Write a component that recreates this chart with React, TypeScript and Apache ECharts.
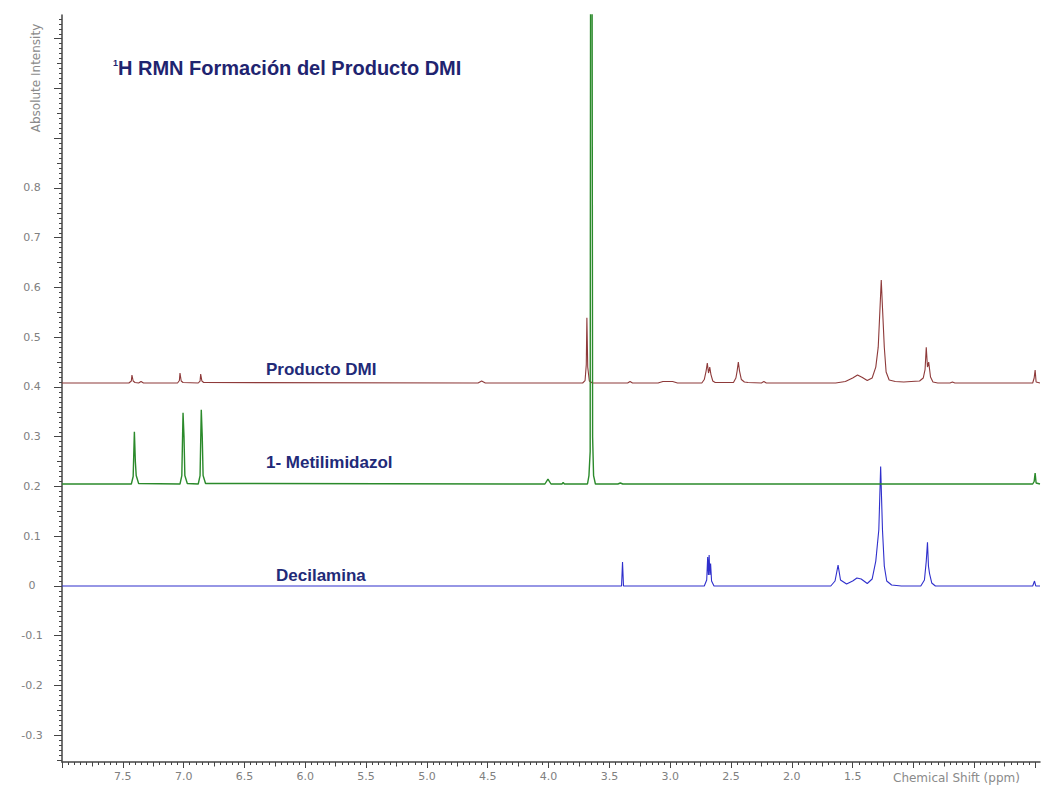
import React, { useEffect, useRef } from "react";
import * as echarts from "echarts";

// ---- data ----
const xTickLabels = [7.5, 7.0, 6.5, 6.0, 5.5, 5.0, 4.5, 4.0, 3.5, 3.0, 2.5, 2.0, 1.5];
const yTickLabels = [-0.3, -0.2, -0.1, 0, 0.1, 0.2, 0.3, 0.4, 0.5, 0.6, 0.7, 0.8];
const seriesNames = ["Producto DMI", "1- Metilimidazol", "Decilamina"];
const titleText = "H RMN Formación del Producto DMI";
const xAxisName = "Chemical Shift (ppm)";
const yAxisName = "Absolute Intensity";

// [ppm, intensity]
const productoDMI: [number, number][] = [
  [8.0, 0.408], [7.45, 0.408], [7.43, 0.412], [7.425, 0.424], [7.415, 0.412], [7.40, 0.409],
  [7.37, 0.408], [7.35, 0.411], [7.33, 0.408],
  [7.05, 0.408], [7.035, 0.413], [7.03, 0.428], [7.02, 0.412], [7.005, 0.409],
  [6.88, 0.408], [6.865, 0.412], [6.86, 0.426], [6.85, 0.412], [6.835, 0.409],
  [4.58, 0.408], [4.55, 0.412], [4.52, 0.408],
  [3.72, 0.408], [3.70, 0.413], [3.69, 0.445], [3.685, 0.539], [3.678, 0.44], [3.665, 0.412], [3.64, 0.408],
  [3.35, 0.408], [3.33, 0.411], [3.31, 0.408],
  [3.10, 0.408], [3.06, 0.411], [2.98, 0.411], [2.94, 0.408],
  [2.74, 0.408], [2.72, 0.415], [2.705, 0.432], [2.695, 0.448], [2.685, 0.428], [2.675, 0.44], [2.665, 0.425], [2.65, 0.412], [2.63, 0.409],
  [2.48, 0.409], [2.46, 0.418], [2.45, 0.432], [2.44, 0.45], [2.43, 0.432], [2.415, 0.415], [2.39, 0.41], [2.36, 0.409],
  [2.25, 0.408], [2.23, 0.411], [2.21, 0.408],
  [1.64, 0.408], [1.56, 0.411], [1.50, 0.418], [1.46, 0.424], [1.42, 0.419], [1.38, 0.413], [1.34, 0.418],
  [1.31, 0.44], [1.29, 0.48], [1.275, 0.56], [1.265, 0.615], [1.255, 0.56], [1.24, 0.48], [1.225, 0.43], [1.20, 0.414],
  [1.15, 0.411], [1.08, 0.41], [1.02, 0.411], [0.95, 0.412],
  [0.92, 0.418], [0.905, 0.435], [0.895, 0.48], [0.885, 0.44], [0.875, 0.45], [0.86, 0.42], [0.84, 0.41], [0.80, 0.408],
  [0.70, 0.408], [0.68, 0.41], [0.66, 0.408],
  [0.02, 0.408], [0.008, 0.418], [0.0, 0.434], [-0.008, 0.41], [-0.04, 0.408],
];

const metilimidazol: [number, number][] = [
  [8.0, 0.205], [7.43, 0.205], [7.415, 0.22], [7.405, 0.31], [7.397, 0.25], [7.39, 0.222], [7.37, 0.206],
  [7.03, 0.205], [7.015, 0.222], [7.005, 0.348], [6.997, 0.3], [6.99, 0.222], [6.97, 0.206],
  [6.88, 0.205], [6.865, 0.222], [6.855, 0.354], [6.847, 0.3], [6.84, 0.222], [6.82, 0.206],
  [4.03, 0.205], [4.005, 0.215], [3.98, 0.205],
  [3.89, 0.205], [3.88, 0.208], [3.87, 0.205],
  [3.68, 0.205], [3.668, 0.222], [3.658, 0.27], [3.654, 1.4], [3.643, 1.4], [3.638, 0.3], [3.63, 0.222], [3.615, 0.205],
  [3.43, 0.205], [3.41, 0.207], [3.39, 0.205],
  [0.02, 0.205], [0.008, 0.21], [0.0, 0.227], [-0.008, 0.207], [-0.04, 0.205],
];

const decilamina: [number, number][] = [
  [8.0, 0.0], [3.40, 0.0], [3.392, 0.048], [3.384, 0.0],
  [2.72, 0.0], [2.70, 0.012], [2.692, 0.058], [2.686, 0.022], [2.68, 0.062], [2.674, 0.022], [2.668, 0.045], [2.66, 0.01], [2.64, 0.0],
  [1.68, 0.0], [1.645, 0.01], [1.62, 0.042], [1.60, 0.012], [1.55, 0.004], [1.50, 0.01], [1.465, 0.016], [1.43, 0.014],
  [1.38, 0.005], [1.34, 0.014], [1.31, 0.05], [1.285, 0.113], [1.27, 0.24], [1.255, 0.113], [1.24, 0.04], [1.22, 0.01],
  [1.18, 0.002], [1.10, 0.0], [0.94, 0.0], [0.91, 0.012], [0.895, 0.05], [0.885, 0.088], [0.877, 0.04], [0.868, 0.025],
  [0.85, 0.006], [0.82, 0.0],
  [0.02, 0.0], [0.005, 0.01], [-0.005, 0.0], [-0.04, 0.0],
];

const seriesData = [productoDMI, metilimidazol, decilamina];
const seriesColors = ["#8e3a3a", "#2b8a2b", "#2f2fcc"];

const X_MIN = -0.04;
const X_MAX = 8.0;
const Y_MIN = -0.3538;
const Y_MAX = 1.1477;

const r2 = (v: number) => Math.round(v * 1000) / 1000;
function ticks(from: number, to: number, step: number): number[] {
  const out: number[] = [];
  const n = Math.round((to - from) / step);
  for (let i = 0; i <= n; i++) out.push(r2(from + i * step));
  return out;
}

export default function App() {
  const ref = useRef<HTMLDivElement>(null);
  useEffect(() => {
    if (!ref.current) return;
    const chart = echarts.init(ref.current, undefined, { renderer: "svg" });
    const gridBox = { left: 62, right: 4, top: 15, bottom: 27, containLabel: false };
    const labelFont = { fontFamily: "DejaVu Sans", fontSize: 11, color: "#808080" };
    const axisCol = "#444";

    const xMinor = ticks(0, 8.0, 0.05);
    const xMid = ticks(0.25, 7.75, 0.5);
    const xMajor = ticks(0, 8.0, 0.5);
    const yMinor = ticks(-0.35, 1.14, 0.01);
    const yMid = ticks(-0.35, 1.1, 0.05);
    const yMajor = ticks(-0.3, 1.1, 0.1);

    const baseX = (g: number) => ({
      type: "value",
      min: X_MIN,
      max: X_MAX,
      inverse: true,
      position: "bottom",
      gridIndex: g,
      splitLine: { show: false },
    });
    const baseY = (g: number) => ({
      type: "value",
      min: Y_MIN,
      max: Y_MAX,
      position: "left",
      gridIndex: g,
      splitLine: { show: false },
    });
    const hiddenLine = { show: false, onZero: false };

    chart.setOption({
      animation: false,
      backgroundColor: "#ffffff",
      grid: [gridBox, gridBox, gridBox],
      xAxis: [
        {
          ...baseX(0),
          axisLine: { show: true, onZero: false, lineStyle: { color: axisCol, width: 1.5 } },
          axisTick: { show: true, customValues: xMajor, length: 6, lineStyle: { color: axisCol } },
          axisLabel: {
            show: true,
            customValues: xTickLabels,
            margin: 9,
            ...labelFont,
            formatter: (v: number) => v.toFixed(1),
          },
        },
        {
          ...baseX(1),
          axisLine: hiddenLine,
          axisTick: { show: true, customValues: xMinor, length: 3, lineStyle: { color: axisCol } },
          axisLabel: { show: false },
        },
        {
          ...baseX(2),
          axisLine: hiddenLine,
          axisTick: { show: true, customValues: xMid, length: 4.5, lineStyle: { color: axisCol } },
          axisLabel: { show: false },
        },
      ],
      yAxis: [
        {
          ...baseY(0),
          axisLine: { show: true, onZero: false, lineStyle: { color: axisCol, width: 1.5 } },
          axisTick: { show: true, customValues: yMajor, length: 8, lineStyle: { color: axisCol } },
          axisLabel: {
            show: true,
            customValues: yTickLabels,
            margin: 30,
            align: "center",
            ...labelFont,
            formatter: (v: number) => (Math.abs(v) < 1e-9 ? "0" : v.toFixed(1)),
          },
        },
        {
          ...baseY(1),
          axisLine: hiddenLine,
          axisTick: { show: true, customValues: yMinor, length: 3, lineStyle: { color: axisCol } },
          axisLabel: { show: false },
        },
        {
          ...baseY(2),
          axisLine: hiddenLine,
          axisTick: { show: true, customValues: yMid, length: 5, lineStyle: { color: axisCol } },
          axisLabel: { show: false },
        },
      ],
      series: seriesData.map((d, i) => ({
        type: "line",
        name: seriesNames[i],
        xAxisIndex: 0,
        yAxisIndex: 0,
        data: d,
        showSymbol: false,
        symbol: "none",
        clip: true,
        lineStyle: { color: seriesColors[i], width: i === 1 ? 1.4 : 1.1 },
        z: i === 1 ? 3 : 2,
      })),
      graphic: [
        {
          type: "text",
          x: 113,
          y: 63,
          style: { text: "1", font: "bold 9px 'Liberation Sans'", fill: "#1f2470", verticalAlign: "middle" },
        },
        {
          type: "text",
          x: 118,
          y: 68,
          style: { text: titleText, font: "bold 20px 'Liberation Sans'", fill: "#1f2470", verticalAlign: "middle" },
        },
        {
          type: "text",
          x: 266,
          y: 369,
          style: { text: seriesNames[0], font: "bold 17px 'Liberation Sans'", fill: "#222a78", verticalAlign: "middle" },
        },
        {
          type: "text",
          x: 266,
          y: 462,
          style: { text: seriesNames[1], font: "bold 17px 'Liberation Sans'", fill: "#222a78", verticalAlign: "middle" },
        },
        {
          type: "text",
          x: 276,
          y: 575,
          style: { text: seriesNames[2], font: "bold 17px 'Liberation Sans'", fill: "#222a78", verticalAlign: "middle" },
        },
        {
          type: "text",
          x: 893,
          y: 778,
          style: { text: xAxisName, font: "12px 'DejaVu Sans'", fill: "#8a8a8a", verticalAlign: "middle" },
        },
        {
          type: "text",
          x: 36,
          y: 78,
          rotation: Math.PI / 2,
          style: { text: yAxisName, font: "12px 'DejaVu Sans'", fill: "#8a8a8a", align: "center", verticalAlign: "middle" },
        },
      ],
    });
    return () => chart.dispose();
  }, []);
  return <div ref={ref} style={{ width: 1044, height: 789, position: "absolute", left: 0, top: 0 }} />;
}
